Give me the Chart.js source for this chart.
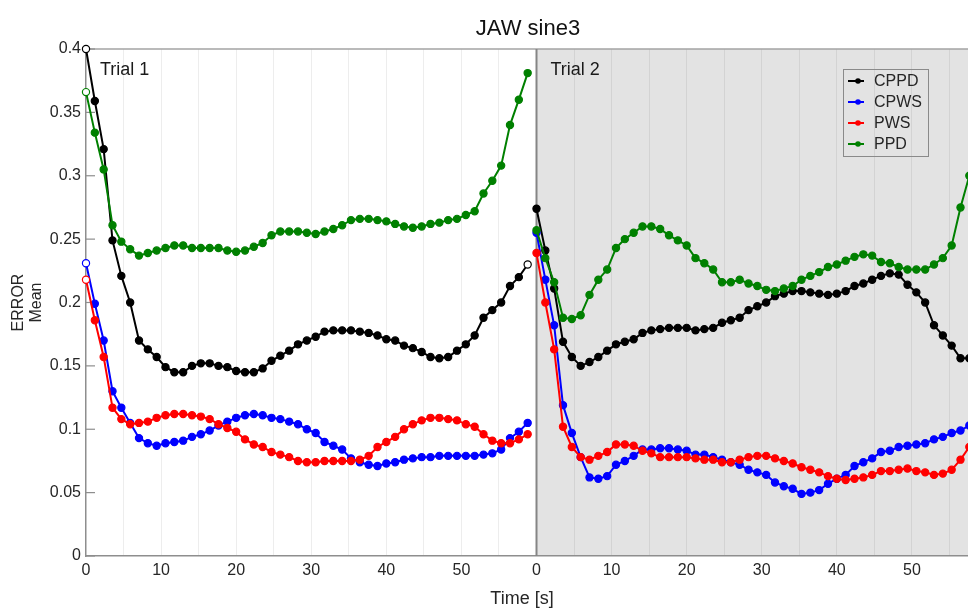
<!DOCTYPE html>
<html>
<head>
<meta charset="utf-8">
<title>JAW sine3</title>
<script src="https://cdn.jsdelivr.net/npm/chart.js@4.4.0/dist/chart.umd.min.js"></script>
<style>
  html, body { margin: 0; padding: 0; background: #ffffff; overflow: hidden; }
  #wrap { position: absolute; left: 0; top: 0; width: 1056px; height: 610px; }
</style>
</head>
<body>
<div id="wrap"><canvas id="chart" width="1056" height="610"></canvas></div>
<script>
// ---- data -------------------------------------------------------------
const seriesNames  = ['CPPD', 'CPWS', 'PWS', 'PPD'];
const seriesColors = ['#000000', '#0000ff', '#ff0000', '#008000'];
const trialNames   = ['Trial 1', 'Trial 2'];
const trialLength  = 60;        // seconds shown per trial panel
const sampleStep   = 60 / 51;   // seconds between samples

// Trial 1
const cppdTrial1 = [0.400,0.359,0.321,0.249,0.221,0.200,0.170,0.163,0.157,0.149,
                    0.145,0.145,0.150,0.152,0.152,0.150,0.149,0.146,0.145,0.145,
                    0.148,0.154,0.158,0.162,0.167,0.170,0.173,0.177,0.178,0.178,
                    0.178,0.177,0.176,0.174,0.171,0.170,0.166,0.164,0.161,0.157,
                    0.156,0.157,0.162,0.167,0.174,0.188,0.194,0.200,0.213,0.220,0.230];
const cpwsTrial1 = [0.231,0.199,0.170,0.130,0.117,0.105,0.093,0.089,0.087,0.089,
                    0.090,0.091,0.094,0.096,0.099,0.103,0.106,0.109,0.111,0.112,
                    0.111,0.109,0.108,0.106,0.104,0.100,0.097,0.090,0.087,0.084,
                    0.077,0.074,0.072,0.071,0.073,0.074,0.076,0.077,0.078,0.078,
                    0.079,0.079,0.079,0.079,0.079,0.080,0.081,0.084,0.093,0.098,0.105];
const pwsTrial1  = [0.218,0.186,0.157,0.117,0.108,0.104,0.105,0.106,0.109,0.111,
                    0.112,0.112,0.111,0.110,0.108,0.104,0.101,0.098,0.092,0.088,
                    0.086,0.082,0.080,0.078,0.075,0.074,0.074,0.075,0.075,0.075,
                    0.075,0.076,0.079,0.086,0.090,0.094,0.100,0.104,0.107,0.109,
                    0.109,0.108,0.107,0.104,0.102,0.096,0.091,0.089,0.089,0.092,0.096];
const ppdTrial1  = [0.366,0.334,0.305,0.261,0.248,0.242,0.237,0.239,0.241,0.243,
                    0.245,0.245,0.243,0.243,0.243,0.243,0.241,0.240,0.241,0.244,
                    0.247,0.253,0.256,0.256,0.256,0.255,0.254,0.256,0.258,0.261,
                    0.265,0.266,0.266,0.265,0.264,0.262,0.260,0.259,0.260,0.262,
                    0.263,0.265,0.266,0.269,0.272,0.286,0.296,0.308,0.340,0.360,0.381];

// Trial 2
const cppdTrial2 = [0.274,0.241,0.211,0.169,0.157,0.150,0.153,0.157,0.162,0.167,
                    0.169,0.171,0.176,0.178,0.179,0.180,0.180,0.180,0.178,0.179,
                    0.180,0.184,0.186,0.188,0.194,0.197,0.200,0.205,0.207,0.209,
                    0.209,0.208,0.207,0.206,0.207,0.209,0.213,0.215,0.218,0.221,
                    0.223,0.222,0.214,0.208,0.200,0.182,0.174,0.166,0.156,0.156,0.158];
const cpwsTrial2 = [0.255,0.218,0.182,0.119,0.097,0.078,0.062,0.061,0.063,0.072,
                    0.075,0.079,0.084,0.084,0.085,0.085,0.084,0.083,0.080,0.080,
                    0.078,0.076,0.074,0.072,0.068,0.066,0.064,0.058,0.055,0.053,
                    0.049,0.050,0.052,0.057,0.061,0.064,0.071,0.074,0.077,0.082,
                    0.083,0.086,0.087,0.088,0.089,0.092,0.094,0.097,0.099,0.103,0.106];
const pwsTrial2  = [0.239,0.200,0.163,0.102,0.086,0.078,0.076,0.079,0.082,0.088,
                    0.088,0.087,0.083,0.081,0.078,0.078,0.078,0.078,0.077,0.076,
                    0.076,0.074,0.074,0.076,0.078,0.079,0.079,0.077,0.075,0.073,
                    0.070,0.068,0.066,0.063,0.061,0.060,0.061,0.062,0.064,0.067,
                    0.067,0.068,0.069,0.067,0.066,0.064,0.065,0.068,0.076,0.086,0.092];
const ppdTrial2  = [0.257,0.235,0.216,0.188,0.187,0.190,0.206,0.218,0.226,0.243,
                    0.250,0.255,0.260,0.260,0.258,0.253,0.249,0.245,0.235,0.231,
                    0.226,0.216,0.216,0.218,0.215,0.213,0.210,0.209,0.211,0.213,
                    0.218,0.221,0.224,0.228,0.230,0.233,0.236,0.238,0.237,0.232,
                    0.231,0.228,0.226,0.226,0.226,0.230,0.235,0.245,0.275,0.300,0.320];

const trialValues = [
  [cppdTrial1, cpwsTrial1, pwsTrial1, ppdTrial1],
  [cppdTrial2, cpwsTrial2, pwsTrial2, ppdTrial2]
];

// y-axis range and tick spacing
const yMin = 0, yMax = 0.4, yStep = 0.05;
const xStep = 5, xLabelStep = 10;

// ---- styling ----------------------------------------------------------
const FONT = "'Liberation Sans', Arial, Helvetica, sans-serif";
const TEXT = '#262626';
const AXIS = '#8e8e8e';
const PANEL2_BG = '#e3e3e3';
const drawOrder = [3, 2, 1, 0];   // later series painted on top

const sampleTimes = cppdTrial1.map((_, i) => i * sampleStep);

// open marker for the first sample of the first trial (and the last CPPD one)
function isOpenMarker(t, s, i, last) {
  if (t !== 0) return false;
  return i === 0 || (s === 0 && i === last);
}

const datasets = [];
trialValues.forEach((seriesSet, t) => {
  seriesSet.forEach((values, s) => {
    const last = values.length - 1;
    datasets.push({
      label: seriesNames[s],
      data: values.map((v, i) => ({ x: t * trialLength + sampleTimes[i], y: v })),
      borderColor: seriesColors[s],
      backgroundColor: seriesColors[s],
      pointBackgroundColor: ctx => isOpenMarker(t, s, ctx.dataIndex, last) ? '#ffffff' : seriesColors[s],
      pointBorderColor: seriesColors[s],
      pointRadius: 3.6,
      pointBorderWidth: 1.2,
      pointHoverRadius: 3.6,
      borderWidth: 2,
      tension: 0,
      fill: false,
      clip: false,
      order: drawOrder[s]
    });
  });
});

// panel background, separator, frame, inner y ticks, texts and legend
const panelsPlugin = {
  id: 'panels',
  beforeDraw(chart) {
    const { ctx, chartArea: a, scales: { x } } = chart;
    ctx.save();
    ctx.fillStyle = '#ffffff';
    ctx.fillRect(0, 0, chart.width, chart.height);
    const xs = x.getPixelForValue(trialLength);
    ctx.fillStyle = PANEL2_BG;
    ctx.fillRect(xs, a.top, a.right - xs, a.bottom - a.top);
    ctx.restore();
  },
  beforeDatasetsDraw(chart) {
    const { ctx, chartArea: a, scales: { x, y } } = chart;
    ctx.save();
    // top frame line
    ctx.strokeStyle = '#a3a3a3';
    ctx.lineWidth = 1.5;
    ctx.beginPath();
    ctx.moveTo(a.left, a.top);
    ctx.lineTo(a.right, a.top);
    ctx.stroke();
    // inner tick marks on the y axis
    ctx.strokeStyle = AXIS;
    ctx.lineWidth = 1.2;
    y.ticks.forEach(tk => {
      const py = y.getPixelForValue(tk.value);
      ctx.beginPath();
      ctx.moveTo(a.left, py);
      ctx.lineTo(a.left + 9, py);
      ctx.stroke();
    });
    // separator between the two trials
    const xs = x.getPixelForValue(trialLength);
    ctx.strokeStyle = '#858585';
    ctx.lineWidth = 2;
    ctx.beginPath();
    ctx.moveTo(xs, a.top);
    ctx.lineTo(xs, a.bottom);
    ctx.stroke();
    ctx.restore();
  },
  afterDraw(chart) {
    const { ctx, chartArea: a, scales: { x } } = chart;
    ctx.save();
    // title
    ctx.fillStyle = '#111111';
    ctx.font = `22px ${FONT}`;
    ctx.textAlign = 'center';
    ctx.textBaseline = 'alphabetic';
    ctx.fillText('JAW sine3', 528, 35);
    // x axis label
    ctx.fillStyle = TEXT;
    ctx.font = `18px ${FONT}`;
    ctx.fillText('Time [s]', 522, 604);
    // y axis label (two rotated lines)
    ctx.font = `16px ${FONT}`;
    const yc = (a.top + a.bottom) / 2;
    [['ERROR', 19], ['Mean', 37]].forEach(([txt, px]) => {
      ctx.save();
      ctx.translate(px, yc);
      ctx.rotate(-Math.PI / 2);
      ctx.textAlign = 'center';
      ctx.textBaseline = 'middle';
      ctx.fillText(txt, 0, 0);
      ctx.restore();
    });
    // trial labels
    ctx.font = `18px ${FONT}`;
    ctx.textAlign = 'left';
    ctx.fillStyle = '#1a1a1a';
    trialNames.forEach((name, t) => {
      ctx.fillText(name, x.getPixelForValue(t * trialLength) + 14, a.top + 26);
    });
    // legend
    const lx = 843, ly = 69, lw = 85, lh = 87, rowH = 21;
    ctx.strokeStyle = '#8a8a8a';
    ctx.lineWidth = 1;
    ctx.strokeRect(lx + 0.5, ly + 0.5, lw, lh);
    ctx.font = `16px ${FONT}`;
    seriesNames.forEach((name, s) => {
      const ry = ly + 12 + s * rowH;
      ctx.strokeStyle = seriesColors[s];
      ctx.fillStyle = seriesColors[s];
      ctx.lineWidth = 2;
      ctx.beginPath();
      ctx.moveTo(lx + 5, ry);
      ctx.lineTo(lx + 21, ry);
      ctx.stroke();
      ctx.beginPath();
      ctx.arc(lx + 15, ry, 2.8, 0, Math.PI * 2);
      ctx.fill();
      ctx.fillStyle = TEXT;
      ctx.textBaseline = 'middle';
      ctx.fillText(name, lx + 31, ry + 1);
    });
    ctx.restore();
  }
};

new Chart(document.getElementById('chart'), {
  type: 'line',
  data: { datasets },
  options: {
    responsive: false,
    animation: false,
    devicePixelRatio: 1,
    layout: { padding: { top: 49, right: 69, left: 0, bottom: 0 } },
    plugins: { legend: { display: false }, tooltip: { enabled: false }, title: { display: false } },
    scales: {
      x: {
        type: 'linear',
        min: 0,
        max: 2 * trialLength,
        afterFit: s => { s.height = 54; },
        ticks: {
          stepSize: xStep,
          autoSkip: false,
          maxRotation: 0,
          padding: 5,
          color: TEXT,
          font: { family: FONT, size: 16 },
          callback: v => (v % xLabelStep === 0 && v < 2 * trialLength) ? String(v % trialLength) : ''
        },
        grid: {
          drawTicks: false,
          lineWidth: 1,
          color: ctx => {
            const v = ctx.tick ? ctx.tick.value : 0;
            if (v === 0 || v === trialLength || v === 2 * trialLength) return 'rgba(0,0,0,0)';
            return v > trialLength ? '#d3d3d3' : '#ededed';
          }
        },
        border: { display: true, color: AXIS, width: 1.5 }
      },
      y: {
        min: yMin,
        max: yMax,
        afterFit: s => { s.width = 86; },
        ticks: {
          stepSize: yStep,
          padding: 5,
          color: TEXT,
          font: { family: FONT, size: 16 },
          callback: v => String(Math.round(v * 100) / 100)
        },
        grid: { drawOnChartArea: false, drawTicks: false },
        border: { display: true, color: AXIS, width: 1.5 }
      }
    }
  },
  plugins: [panelsPlugin]
});
</script>
</body>
</html>
